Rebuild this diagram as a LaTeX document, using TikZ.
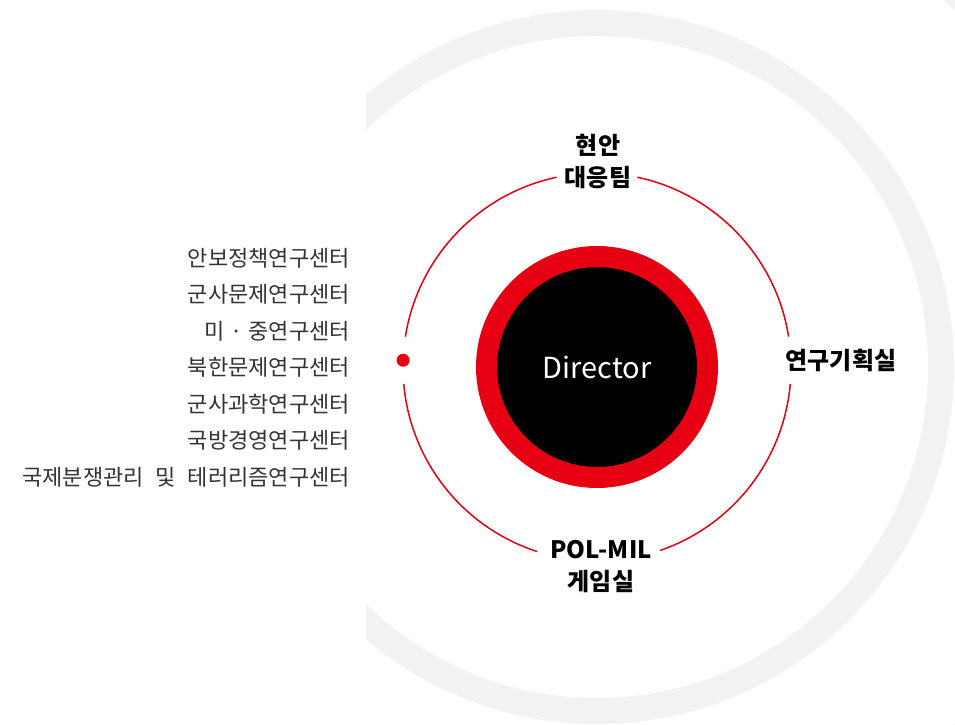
\documentclass[tikz,border=0pt]{standalone}
\usepackage{fontspec}
\setmainfont{Noto Sans CJK KR}
\usepackage{tikz}
\usetikzlibrary{calc,%
		positioning,%
		shapes}
\definecolor{kidared}{HTML}{E60012}
\definecolor{ringgray}{HTML}{F2F2F2}
\definecolor{listgray}{HTML}{333333}

\begin{document}
\begin{tikzpicture}[x=1pt,y=1pt,
  orbit/.style={draw=kidared,line width=1.5pt},
  unit/.style={font=\fontsize{24}{32}\selectfont\bfseries,align=center,inner sep=0pt},
  ctr/.style={anchor=east,text=listgray,font=\fontsize{22}{24}\selectfont,inner sep=0pt}]
  \useasboundingbox (0,0) rectangle (955,724);
  \coordinate (c) at (597,357);

  % background rings
  \begin{scope}
    \clip (366,0) rectangle (955,724);
    \fill[ringgray,even odd rule] (c) circle[radius=357pt] (c) circle[radius=331pt];
    \fill[ringgray,even odd rule] (c) circle[radius=540pt] (c) circle[radius=505pt];
  \end{scope}

  % orbit, open where the labels sit
  \foreach \a/\b in {9/78,102/171,185/252,289/355}
    \draw[orbit] (c) ++(\a:194) arc[start angle=\a,end angle=\b,radius=194pt];
  \node (dot) [circle,fill=kidared,minimum size=13pt,inner sep=0pt] at ($(c)+(178:194)$) {};

  \node (director) [circle,fill=black,draw=kidared,line width=21pt,minimum size=221pt,
    inner sep=0pt,text=white,font=\fontsize{29}{30}\selectfont] at (c) {Director};

  \node (issue) [unit] at (598,563) {현안\\대응팀};
  \node (plan) [unit] at (841,364) {연구기획실};
  \node (game) [unit] at (601,157) {POL-MIL\\게임실};

  % research centers
  \foreach \t [count=\i] in {안보정책연구센터,군사문제연구센터,미\hspace{1pt} · \hspace{1pt}중연구센터,%
      북한문제연구센터,군사과학연구센터,국방경영연구센터,%
      국제분쟁관리\hspace{7pt} 및\hspace{7pt} 테러리즘연구센터}
    \node (ctr\i) [ctr] at (350,{502.5-36.5*\i}) {\t};

\end{tikzpicture}
\end{document}
